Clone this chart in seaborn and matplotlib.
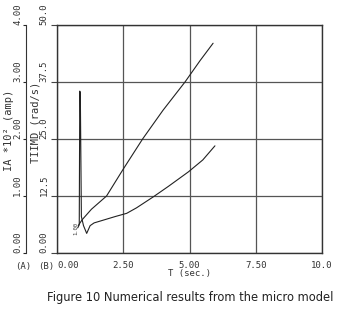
import numpy as np
import pandas as pd
import matplotlib
matplotlib.use('Agg')
import matplotlib.pyplot as plt
import seaborn as sns

# data (T in sec, values on the rad/s scale)
t_speed = [0.80, 0.95, 1.30, 1.87, 2.50, 3.23, 4.00, 4.83, 5.40, 5.89]
speed = [6.0, 7.3, 9.6, 12.5, 18.4, 25.0, 31.3, 37.5, 42.2, 46.0]

t_curr = [0.78, 0.84, 0.86, 0.88, 0.92, 1.00, 1.12, 1.25, 1.40, 1.80, 2.20, 2.63,
          3.00, 3.63, 4.20, 4.96, 5.50, 5.96]
curr = [5.5, 6.2, 35.5, 35.0, 8.0, 6.0, 4.3, 6.0, 6.6, 7.3, 8.0, 8.7,
        9.9, 12.3, 14.6, 17.8, 20.4, 23.5]

x_ticks = [0.0, 2.5, 5.0, 7.5, 10.0]
x_labels = ['0.00', '2.50', '5.00', '7.50', '10.0']
b_ticks = [0.0, 12.5, 25.0, 37.5, 50.0]
b_labels = ['0.00', '12.5', '25.0', '37.5', '50.0']
a_ticks = [0, 1, 2, 3, 4]
a_labels = ['0.00', '1.00', '2.00', '3.00', '4.00']

sns.set_style('white')
plt.rcParams['font.family'] = ['DejaVu Sans Mono']

fig = plt.figure(figsize=(3.43, 3.13), dpi=100)
ax = fig.add_axes([57 / 343, 1 - 253 / 313, 265 / 343, 228 / 313])

df1 = pd.DataFrame({'T': t_speed, 'v': speed})
df2 = pd.DataFrame({'T': t_curr, 'v': curr})
sns.lineplot(data=df1, x='T', y='v', ax=ax, color='#222222', lw=0.8, sort=False)
sns.lineplot(data=df2, x='T', y='v', ax=ax, color='#222222', lw=0.8, sort=False)

ax.set_xlim(0, 10)
ax.set_ylim(0, 50)
ax.set_xticks(x_ticks)
ax.set_xticklabels(x_labels, fontsize=6.5, color='#333333')
ax.get_xticklabels()[0].set_ha('left')
ax.set_yticks(b_ticks)
ax.set_yticklabels(b_labels, fontsize=6.5, rotation=90, va='bottom', color='#333333')
ax.tick_params(axis='both', length=4, width=0.8, color='#444444', pad=2)
ax.grid(True, color='#555555', lw=0.9)
for s in ax.spines.values():
    s.set_color('#333333')
    s.set_linewidth(1.0)
ax.set_xlabel('T (sec.)', fontsize=6.5, labelpad=-1, color='#333333')
ax.set_ylabel('TIIMD (rad/s)', fontsize=7.5, color='#333333')
ax.yaxis.set_label_coords(-0.064, 0.575)

# small marker label near the start of the curves
ax.text(0.72, 5.3, '1.00', fontsize=4, rotation=90, ha='center', va='center',
        color='#333333')

# outer current axis
ax2 = ax.twinx()
ax2.set_ylim(0, 4)
ax2.spines['right'].set_visible(False)
ax2.spines['top'].set_visible(False)
ax2.spines['bottom'].set_visible(False)
ax2.spines['left'].set_visible(True)
ax2.spines['left'].set_position(('outward', 22))
ax2.spines['left'].set_color('#333333')
ax2.yaxis.set_ticks_position('left')
ax2.yaxis.set_label_position('left')
ax2.set_yticks(a_ticks)
ax2.set_yticklabels(a_labels, fontsize=6.5, rotation=90, va='bottom', color='#333333')
ax2.tick_params(axis='y', length=2, width=0.8, pad=1)
ax2.set_ylabel('IA *10² (amp)', fontsize=7.5, color='#333333')
ax2.yaxis.set_label_coords(-0.164, 0.54)

fig.text(15 / 343, 1 - 267 / 313, '(A)', fontsize=6.5, va='center', color='#333333')
fig.text(38 / 343, 1 - 267 / 313, '(B)', fontsize=6.5, va='center', color='#333333')
fig.text(190 / 343, 1 - 297 / 313, 'Figure 10 Numerical results from the micro model',
         fontsize=8.3, ha='center', va='center', family='DejaVu Sans', color='#222222')

fig.savefig('out.png', dpi=100, facecolor='white')
